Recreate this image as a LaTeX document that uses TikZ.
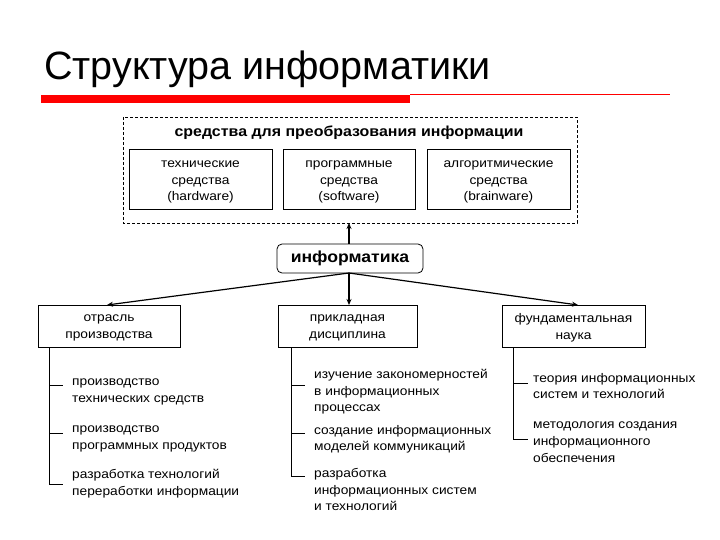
\documentclass[tikz,border=0pt]{standalone}
\usepackage{fontspec}
\setmainfont{Liberation Sans}
\newfontfamily\wide[FakeStretch=1.1]{Liberation Sans}
\usetikzlibrary{arrows.meta}
\begin{document}
\begin{tikzpicture}[x=1pt,y=-1pt,
  frame/.style={draw,line width=0.8pt,inner sep=0pt},
  txt/.style={align=center,font=\wide\fontsize{12.5}{16.5}\selectfont,inner sep=0pt},
  item/.style={anchor=north west,align=left,font=\wide\fontsize{12.5}{16.7}\selectfont,inner sep=0pt},
  conn/.style={line width=0.8pt},
  arr/.style={line width=1.2pt,-{Stealth[length=6pt,width=5pt]}},
]
\useasboundingbox (0,0) rectangle (720,540);
\fill[white] (0,0) rectangle (720,540);
% title
\node[anchor=base west,inner sep=0pt,font=\fontsize{39.5}{42}\selectfont] (title) at (44,80) {Структура информатики};
\fill[red] (41,95) rectangle (410,103);
\coordinate (redend) at (410,94);
\coordinate (lineend) at (670,94);
\draw[red,line width=0.6pt] (redend) -- (lineend);
% dashed outer box
\draw[dashed,line width=0.8pt,dash pattern=on 3pt off 2pt] (123,117) rectangle (577,223);
\node[font=\wide\bfseries\fontsize{14.5}{16}\selectfont] (head) at (349,133) {средства для преобразования информации};
\node[frame,minimum width=143pt,minimum height=60pt] (hw) at (200.5,179) {};
\node[frame,minimum width=132pt,minimum height=60pt] (sw) at (349,179) {};
\node[frame,minimum width=143pt,minimum height=60pt] (bw) at (498.5,179) {};
\node[txt] (hwt) at ([yshift=-3pt]hw.center) {технические\\средства\\(hardware)};
\node[txt] (swt) at ([yshift=-3pt]sw.center) {программные\\средства\\(software)};
\node[txt] (bwt) at ([yshift=-3pt]bw.center) {алгоритмические\\средства\\(brainware)};
\coordinate (dashbot) at (349,223);
% informatika
\node[draw,line width=0.8pt,rounded corners=5pt,minimum width=146pt,minimum height=29pt,inner sep=0pt,font=\wide\bfseries\fontsize{16}{18}\selectfont] (inf) at (350,258.5) {информатика};
\draw[arr] (inf.north -| dashbot) -- (dashbot);
% second level
\node[frame,minimum width=142pt,minimum height=42pt] (otr) at (109,326) {};
\node[frame,minimum width=139pt,minimum height=42pt] (prik) at (347.5,326) {};
\node[frame,minimum width=143pt,minimum height=42pt] (fund) at (573.5,326) {};
\node[txt] (otrt) at ([yshift=-2pt]otr.center) {отрасль\\производства};
\node[txt] (prikt) at ([yshift=-2pt]prik.center) {прикладная\\дисциплина};
\node[txt] (fundt) at ([yshift=-2pt]fund.center) {фундаментальная\\наука};
\coordinate (t1) at (107,305);
\coordinate (t2) at (349,305);
\coordinate (t3) at (578,305);
\coordinate (s0) at (349,273);
\draw[arr] (s0) -- (t1);
\draw[arr] (s0) -- (t2);
\draw[arr] (s0) -- (t3);
% left column
\coordinate (l0) at (49,347);
\coordinate (l1) at (49,385);
\coordinate (l2) at (49,433);
\coordinate (l3) at (49,484);
\draw[conn] (l0) -- (l3) -- ++(14,0);
\draw[conn] (l1) -- ++(14,0);
\draw[conn] (l2) -- ++(14,0);
\node[item] (a1) at (72,379) {производство\\технических средств};
\node[item] (a2) at (72,426) {производство\\программных продуктов};
\node[item] (a3) at (72,469) {разработка технологий\\переработки информации};
% middle column
\coordinate (m0) at (291,347);
\coordinate (m1) at (291,385);
\coordinate (m2) at (291,433);
\coordinate (m3) at (291,476);
\draw[conn] (m0) -- (m3) -- ++(14,0);
\draw[conn] (m1) -- ++(14,0);
\draw[conn] (m2) -- ++(14,0);
\node[item] (b1) at (314,369) {изучение закономерностей\\в информационных\\процессах};
\node[item] (b2) at (314,425) {создание информационных\\моделей коммуникаций};
\node[item] (b3) at (314,468) {разработка\\информационных систем\\и технологий};
% right column
\coordinate (r0) at (513,347);
\coordinate (r1) at (513,383);
\coordinate (r2) at (513,439);
\draw[conn] (r0) -- (r2) -- ++(15,0);
\draw[conn] (r1) -- ++(15,0);
\node[item] (c1) at (533,373) {теория информационных\\систем и технологий};
\node[item] (c2) at (533,422) {методология создания\\информационного\\обеспечения};
\end{tikzpicture}
\end{document}
